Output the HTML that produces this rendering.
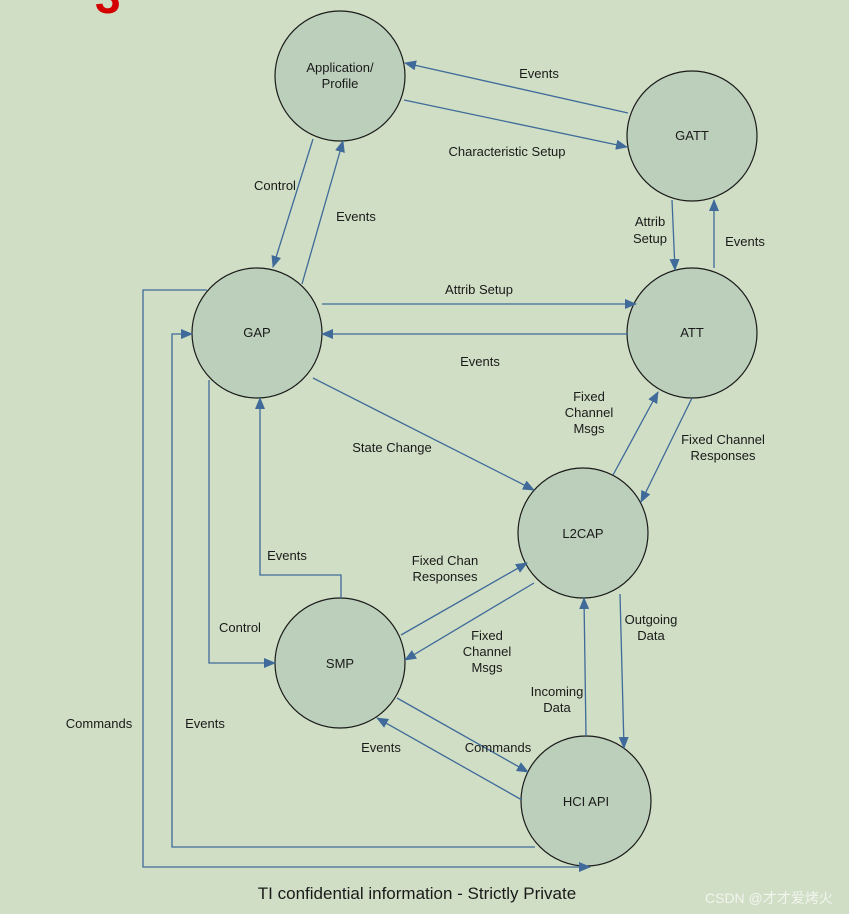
<!DOCTYPE html>
<html><head><meta charset="utf-8"><style>
html,body{margin:0;padding:0;background:#cfdec4;}
svg{display:block;}
text{font-family:"Liberation Sans",sans-serif;font-size:13px;fill:#1a1a1a;}
</style></head><body>
<svg width="849" height="914" viewBox="0 0 849 914" xmlns="http://www.w3.org/2000/svg">
<defs><marker id="a" markerWidth="12" markerHeight="10" refX="11" refY="5" orient="auto" markerUnits="userSpaceOnUse"><path d="M0,0 L12,5 L0,10 z" fill="#3f6a9a"/></marker></defs>
<rect width="849" height="914" fill="#cfdec4"/>
<text x="95" y="13" style="font-size:46px;font-weight:bold;fill:#d40000">3</text>
<g fill="#bccfbb" stroke="#1a1a1a" stroke-width="1.2">
<circle cx="340" cy="76" r="65"/><circle cx="692" cy="136" r="65"/>
<circle cx="257" cy="333" r="65"/><circle cx="692" cy="333" r="65"/>
<circle cx="583" cy="533" r="65"/><circle cx="340" cy="663" r="65"/>
<circle cx="586" cy="801" r="65"/>
</g>
<g stroke="#3f6a9a" stroke-width="1.3" fill="none" marker-end="url(#a)">
<line x1="628" y1="113" x2="405" y2="63"/>
<line x1="404" y1="100" x2="627" y2="147"/>
<line x1="313" y1="139" x2="273" y2="267"/>
<line x1="302" y1="284" x2="343" y2="141"/>
<line x1="672" y1="200" x2="675" y2="270"/>
<line x1="714" y1="268" x2="714" y2="200"/>
<line x1="322" y1="304" x2="636" y2="304"/>
<line x1="628" y1="334" x2="322" y2="334"/>
<line x1="313" y1="378" x2="534" y2="490"/>
<line x1="613" y1="475" x2="658" y2="392"/>
<line x1="692" y1="398" x2="641" y2="502"/>
<line x1="401" y1="635" x2="527" y2="563"/>
<line x1="534" y1="583" x2="405" y2="660"/>
<polyline points="341,598 341,575 260,575 260,398"/>
<polyline points="209,380 209,663 275,663"/>
<line x1="620" y1="594" x2="624" y2="748"/>
<line x1="586" y1="736" x2="584" y2="598"/>
<line x1="397" y1="698" x2="528" y2="772"/>
<line x1="522" y1="800" x2="377" y2="718"/>
<polyline points="535,847 172,847 172,334 192,334"/>
<polyline points="207,290 143,290 143,867 590,867"/>
</g>
<g text-anchor="middle">
<text x="340" y="72">Application/</text><text x="340" y="88">Profile</text>
<text x="692" y="140">GATT</text><text x="257" y="337">GAP</text><text x="692" y="337">ATT</text>
<text x="583" y="538">L2CAP</text><text x="340" y="668">SMP</text><text x="586" y="806">HCI API</text>
<text x="539" y="78">Events</text>
<text x="507" y="156">Characteristic Setup</text>
<text x="275" y="190">Control</text>
<text x="356" y="221">Events</text>
<text x="650" y="226">Attrib</text><text x="650" y="243">Setup</text>
<text x="745" y="246">Events</text>
<text x="479" y="294">Attrib Setup</text>
<text x="480" y="366">Events</text>
<text x="589" y="401">Fixed</text><text x="589" y="417">Channel</text><text x="589" y="433">Msgs</text>
<text x="723" y="444">Fixed Channel</text><text x="723" y="460">Responses</text>
<text x="392" y="452">State Change</text>
<text x="287" y="560">Events</text>
<text x="445" y="565">Fixed Chan</text><text x="445" y="581">Responses</text>
<text x="651" y="624">Outgoing</text><text x="651" y="640">Data</text>
<text x="240" y="632">Control</text>
<text x="487" y="640">Fixed</text><text x="487" y="656">Channel</text><text x="487" y="672">Msgs</text>
<text x="557" y="696">Incoming</text><text x="557" y="712">Data</text>
<text x="99" y="728">Commands</text>
<text x="205" y="728">Events</text>
<text x="381" y="752">Events</text>
<text x="498" y="752">Commands</text>
<text x="417" y="899" style="font-size:17px">TI confidential information - Strictly Private</text>
</g>
<text x="705" y="903" style="font-family:'Liberation Sans','Noto Sans CJK SC',sans-serif;font-size:14px;fill:#f2f5ef">CSDN @才才爱烤火</text>
</svg>
</body></html>
